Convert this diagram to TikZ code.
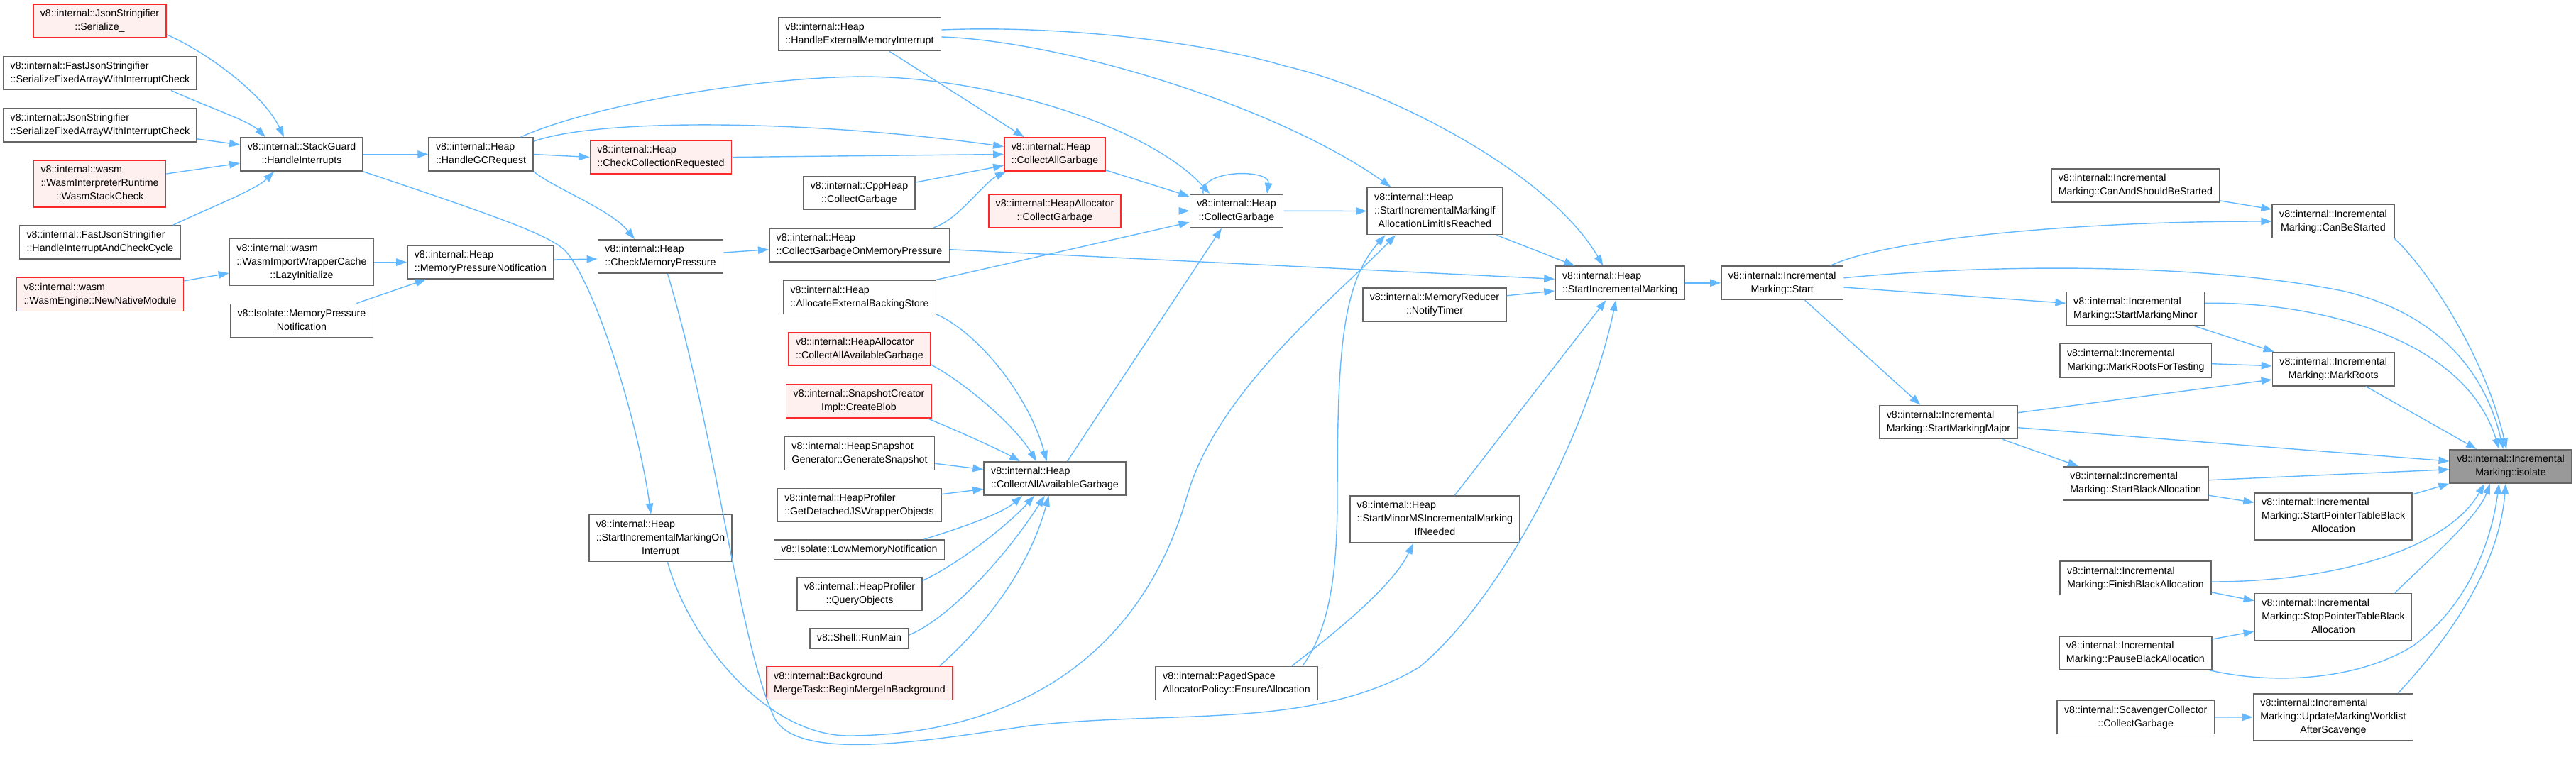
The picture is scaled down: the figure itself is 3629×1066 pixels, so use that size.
\documentclass[tikz,border=0pt]{standalone}
\usepackage{fontspec}
\setmainfont{Liberation Sans}
\usetikzlibrary{arrows.meta}
\definecolor{edgeblue}{RGB}{99,184,255}
\definecolor{boxgray}{RGB}{102,102,102}
\definecolor{hotred}{RGB}{250,40,40}
\definecolor{hotfill}{RGB}{255,240,240}
\definecolor{focusgray}{RGB}{153,153,153}
\newcommand{\fnlabel}[2]{\begin{tabular}{@{}l@{}}#1\\\multicolumn{1}{@{}c@{}}{#2}\end{tabular}}

\begin{document}
\begin{tikzpicture}[x=1pt,y=-1pt,>={Triangle[length=15pt,width=10.5pt]},
  fn/.style={draw=boxgray,fill=white,line width=1.6pt,inner xsep=10pt,inner ysep=4.6pt,font=\fontsize{14.2}{19}\selectfont},
  fnred/.style={fn,draw=hotred,fill=hotfill},
  fnme/.style={fn,fill=focusgray},
  call/.style={->,color=edgeblue,line width=1.4pt}]
  \useasboundingbox (0,0) rectangle (3629,1066);
  \node[fnred] (serialize) at (140.5,29.5) {\fnlabel{v8::internal::JsonStringifier}{::Serialize\_}};
  \node[fn] (fastSerFixed) at (141,103) {\fnlabel{v8::internal::FastJsonStringifier}{::SerializeFixedArrayWithInterruptCheck}};
  \node[fn] (jsonSerFixed) at (141,176.5) {\fnlabel{v8::internal::JsonStringifier}{::SerializeFixedArrayWithInterruptCheck}};
  \node[fnred] (wasmStackCheck) at (140.5,259) {\fnlabel{v8::internal::wasm\\::WasmInterpreterRuntime}{::WasmStackCheck}};
  \node[fn] (fastHandleInt) at (141,341.5) {\fnlabel{v8::internal::FastJsonStringifier}{::HandleInterruptAndCheckCycle}};
  \node[fnred] (newNativeModule) at (141,415) {\fnlabel{v8::internal::wasm}{::WasmEngine::NewNativeModule}};
  \node[fn] (lazyInit) at (425,369.5) {\fnlabel{v8::internal::wasm\\::WasmImportWrapperCache}{::LazyInitialize}};
  \node[fn] (isoMemPressure) at (425,452) {\fnlabel{v8::Isolate::MemoryPressure}{Notification}};
  \node[fn] (stackGuard) at (425,217.5) {\fnlabel{v8::internal::StackGuard}{::HandleInterrupts}};
  \node[fn] (handleGC) at (677.6,217.5) {\fnlabel{v8::internal::Heap}{::HandleGCRequest}};
  \node[fn] (memPressureNotif) at (677,369.5) {\fnlabel{v8::internal::Heap}{::MemoryPressureNotification}};
  \node[fnred] (checkCollReq) at (931,221.5) {\fnlabel{v8::internal::Heap}{::CheckCollectionRequested}};
  \node[fn] (checkMemPressure) at (930.5,361.5) {\fnlabel{v8::internal::Heap}{::CheckMemoryPressure}};
  \node[fn] (incMarkOnInt) at (930.5,758.5) {\fnlabel{v8::internal::Heap\\::StartIncrementalMarkingOn}{Interrupt}};
  \node[fn] (handleExtMem) at (1211,48) {\fnlabel{v8::internal::Heap}{::HandleExternalMemoryInterrupt}};
  \node[fn] (cppHeapCollect) at (1210.5,272) {\fnlabel{v8::internal::CppHeap}{::CollectGarbage}};
  \node[fn] (collectOnPressure) at (1210.5,345.3) {\fnlabel{v8::internal::Heap}{::CollectGarbageOnMemoryPressure}};
  \node[fn] (allocExtStore) at (1211,418.7) {\fnlabel{v8::internal::Heap}{::AllocateExternalBackingStore}};
  \node[fnred] (allocCollectAll) at (1211,492) {\fnlabel{v8::internal::HeapAllocator}{::CollectAllAvailableGarbage}};
  \node[fnred] (createBlob) at (1210,565.5) {\fnlabel{v8::internal::SnapshotCreator}{Impl::CreateBlob}};
  \node[fn] (genSnapshot) at (1211,639) {\fnlabel{v8::internal::HeapSnapshot}{Generator::GenerateSnapshot}};
  \node[fn] (detachedObjs) at (1210.5,712) {\fnlabel{v8::internal::HeapProfiler}{::GetDetachedJSWrapperObjects}};
  \node[fn] (lowMemNotif) at (1210.5,775) {\strut v8::Isolate::LowMemoryNotification};
  \node[fn] (queryObjects) at (1211,837) {\fnlabel{v8::internal::HeapProfiler}{::QueryObjects}};
  \node[fn] (runMain) at (1210.5,900) {\strut v8::Shell::RunMain};
  \node[fnred] (beginMerge) at (1211,963) {\fnlabel{v8::internal::Background}{MergeTask::BeginMergeInBackground}};
  \node[fnred] (collectAll) at (1486,217.5) {\fnlabel{v8::internal::Heap}{::CollectAllGarbage}};
  \node[fnred] (allocCollect) at (1486,297.3) {\fnlabel{v8::internal::HeapAllocator}{::CollectGarbage}};
  \node[fn] (collectAllAvail) at (1486,674.5) {\fnlabel{v8::internal::Heap}{::CollectAllAvailableGarbage}};
  \node[fn] (collectGarbage) at (1742,297.3) {\fnlabel{v8::internal::Heap}{::CollectGarbage}};
  \node[fn] (ensureAlloc) at (1742,963) {\fnlabel{v8::internal::PagedSpace}{AllocatorPolicy::EnsureAllocation}};
  \node[fn] (incMarkIfLimit) at (2021.4,297.5) {\fnlabel{v8::internal::Heap\\::StartIncrementalMarkingIf}{AllocationLimitIsReached}};
  \node[fn] (notifyTimer) at (2021,429.5) {\fnlabel{v8::internal::MemoryReducer}{::NotifyTimer}};
  \node[fn] (minorMSIfNeeded) at (2021.4,732) {\fnlabel{v8::internal::Heap\\::StartMinorMSIncrementalMarking}{IfNeeded}};
  \node[fn] (startIncMark) at (2282.3,398.8) {\fnlabel{v8::internal::Heap}{::StartIncrementalMarking}};
  \node[fn] (markStart) at (2510.7,398.8) {\fnlabel{v8::internal::Incremental}{Marking::Start}};
  \node[fn] (canAndShould) at (3008.4,261.3) {\fnlabel{v8::internal::Incremental}{Marking::CanAndShouldBeStarted}};
  \node[fn] (canBeStarted) at (3286.9,312) {\fnlabel{v8::internal::Incremental}{Marking::CanBeStarted}};
  \node[fn] (markingMinor) at (3008.4,435) {\fnlabel{v8::internal::Incremental}{Marking::StartMarkingMinor}};
  \node[fn] (rootsForTesting) at (3008.7,508.2) {\fnlabel{v8::internal::Incremental}{Marking::MarkRootsForTesting}};
  \node[fn] (markRoots) at (3287.2,520.2) {\fnlabel{v8::internal::Incremental}{Marking::MarkRoots}};
  \node[fn] (markingMajor) at (2745,595) {\fnlabel{v8::internal::Incremental}{Marking::StartMarkingMajor}};
  \node[fn] (startBlack) at (3008.7,681.5) {\fnlabel{v8::internal::Incremental}{Marking::StartBlackAllocation}};
  \node[fnme] (isolate) at (3537,657.3) {\fnlabel{v8::internal::Incremental}{Marking::isolate}};
  \node[fn] (startPtrBlack) at (3287.2,728) {\fnlabel{v8::internal::Incremental\\Marking::StartPointerTableBlack}{Allocation}};
  \node[fn] (finishBlack) at (3008.4,814.8) {\fnlabel{v8::internal::Incremental}{Marking::FinishBlackAllocation}};
  \node[fn] (stopPtrBlack) at (3287,869.5) {\fnlabel{v8::internal::Incremental\\Marking::StopPointerTableBlack}{Allocation}};
  \node[fn] (pauseBlack) at (3008.4,920.3) {\fnlabel{v8::internal::Incremental}{Marking::PauseBlackAllocation}};
  \node[fn] (scavCollect) at (3008.7,1011) {\fnlabel{v8::internal::ScavengerCollector}{::CollectGarbage}};
  \node[fn] (updateWorklist) at (3286.9,1010.8) {\fnlabel{v8::internal::Incremental\\Marking::UpdateMarkingWorklist}{AfterScavenge}};

  \draw[call] ([yshift=5pt]serialize.south east) .. controls (285,70) and (370,130) .. ([xshift=-25pt]stackGuard.north);
  \draw[call] ([xshift=100pt]fastSerFixed.south) .. controls (290,150) and (350,170) .. ([xshift=-51pt]stackGuard.north);
  \draw[call] ([yshift=5pt]jsonSerFixed.south east) -- ([yshift=13.5pt]stackGuard.west);
  \draw[call] ([yshift=14pt]wasmStackCheck.east) -- ([yshift=-12.5pt]stackGuard.west);
  \draw[call] ([xshift=103pt]fastHandleInt.north) .. controls (290,295) and (360,268) .. ([xshift=-39pt]stackGuard.south);
  \draw[call] ([yshift=-5.3pt]newNativeModule.north east) -- ([yshift=-15.5pt]lazyInit.west);
  \draw[call] (lazyInit.east) -- (memPressureNotif.west);
  \draw[call] ([xshift=77pt]isoMemPressure.north) -- ([xshift=-77pt]memPressureNotif.south);
  \draw[call] ([yshift=3.5pt]memPressureNotif.east) -- ([yshift=-3.5pt]checkMemPressure.west);
  \draw[call] (stackGuard.east) -- (handleGC.west);
  \draw[call] (stackGuard.south east) .. controls (700,305) and (770,330) .. (795,352) .. controls (840,400) and (900,600) .. ([xshift=-13.5pt]incMarkOnInt.north);
  \draw[call] (handleGC.south east) .. controls (780,265) and (860,295) .. ([xshift=-36.5pt]checkMemPressure.north);
  \draw[call] (handleGC.east) -- (checkCollReq.west);
  \draw[call] ([yshift=-6pt]handleGC.north east) .. controls (850,165) and (1150,170) .. ([yshift=11pt]collectAll.west);
  \draw[call] ([xshift=56pt]handleGC.north) .. controls (830,150) and (1050,110) .. (1213,108) .. controls (1400,108) and (1620,180) .. ([xshift=-38pt]collectGarbage.north);
  \draw[call] (checkCollReq.east) -- (collectAll.west);
  \draw[call] ([yshift=-9.4pt]cppHeapCollect.north east) -- ([yshift=-15.8pt]collectAll.west);
  \draw[call] ([xshift=104.5pt]collectOnPressure.north) .. controls (1350,310) and (1385,258) .. ([xshift=3pt]collectAll.south west);
  \draw[call] ([xshift=42pt]handleExtMem.south) -- ([xshift=-43.3pt]collectAll.north);
  \draw[call] ([yshift=-4pt]handleExtMem.east) .. controls (1500,58) and (1800,150) .. ([xshift=-62pt]incMarkIfLimit.north);
  \draw[call] ([yshift=6pt]handleExtMem.east) .. controls (1500,35) and (1700,60) .. (1810,93) .. controls (1950,125) and (2180,240) .. ([xshift=-24pt]startIncMark.north);
  \draw[call] ([yshift=2pt]collectAll.south east) -- ([yshift=20.6pt]collectGarbage.west);
  \draw[call] (allocCollect.east) -- (collectGarbage.west);
  \draw[call] ([xshift=-47pt]collectGarbage.north) .. controls (1690,238) and (1790,238) .. ([xshift=43pt]collectGarbage.north);
  \draw[call] (allocExtStore.north east) -- ([yshift=-16pt]collectGarbage.west);
  \draw[call] ([xshift=17.6pt]collectAllAvail.north) -- ([xshift=-21pt]collectGarbage.south);
  \draw[call] (collectGarbage.east) -- (incMarkIfLimit.west);
  \draw[call] ([yshift=5.5pt]checkMemPressure.east) -- ([yshift=-6.4pt]collectOnPressure.west);
  \draw[call] ([yshift=-6.4pt]collectOnPressure.east) -- ([yshift=5.5pt]startIncMark.west);
  \draw[call] ([xshift=10pt]checkMemPressure.south) .. controls (1010,620) and (1040,900) .. (1090,1010) .. controls (1120,1075) and (1300,1045) .. (1450,1023) .. controls (1650,1000) and (1850,1030) .. (2000,940) .. controls (2120,840) and (2240,600) .. ([xshift=-6pt]startIncMark.south);
  \draw[call] ([xshift=10pt]incMarkOnInt.south) .. controls (970,900) and (1080,1040) .. (1200,1037) .. controls (1400,1035) and (1600,950) .. (1672,700) .. controls (1715,550) and (1880,420) .. ([xshift=-55.4pt]incMarkIfLimit.south);
  \draw[call] ([xshift=93pt]ensureAlloc.north) .. controls (1870,890) and (1884,820) .. (1884,700) .. controls (1884,500) and (1890,400) .. ([xshift=-70pt]incMarkIfLimit.south);
  \draw[call] ([xshift=78pt]ensureAlloc.north) .. controls (1870,900) and (1960,830) .. ([xshift=-30.4pt]minorMSIfNeeded.south);
  \draw[call] ([xshift=28pt]minorMSIfNeeded.north) -- ([xshift=-20pt]startIncMark.south);
  \draw[call] ([yshift=12.8pt]notifyTimer.east) -- ([yshift=-11.2pt]startIncMark.west);
  \draw[call] ([xshift=-9pt]incMarkIfLimit.south east) -- ([xshift=-64pt]startIncMark.north);
  \draw[call] (startIncMark.east) -- (markStart.west);
  \draw[call] (allocExtStore.south east) .. controls (1380,470) and (1450,560) .. ([xshift=-11.4pt]collectAllAvail.north);
  \draw[call] ([yshift=2.5pt]allocCollectAll.south east) .. controls (1360,540) and (1430,600) .. ([xshift=-26pt]collectAllAvail.north);
  \draw[call] ([xshift=-6pt]createBlob.south east) .. controls (1360,612) and (1410,635) .. ([xshift=-49pt]collectAllAvail.north);
  \draw[call] ([yshift=-14.3pt]genSnapshot.east) -- ([yshift=12.8pt]collectAllAvail.west);
  \draw[call] ([yshift=-9pt]detachedObjs.north east) -- ([yshift=-14.8pt]collectAllAvail.west);
  \draw[call] ([xshift=91.5pt]lowMemNotif.north) .. controls (1350,745) and (1410,725) .. ([xshift=-46pt]collectAllAvail.south);
  \draw[call] ([yshift=18.7pt]queryObjects.east) .. controls (1350,795) and (1420,740) .. ([xshift=-29pt]collectAllAvail.south);
  \draw[call] ([yshift=5pt]runMain.east) .. controls (1340,870) and (1420,780) .. ([xshift=-14.3pt]collectAllAvail.south);
  \draw[call] ([xshift=112.7pt]beginMerge.north) .. controls (1390,880) and (1450,800) .. ([xshift=-8.5pt]collectAllAvail.south);
  \draw[call] ([xshift=68pt]markStart.north) .. controls (2650,340) and (2900,312) .. (canBeStarted.west);
  \draw[call] ([yshift=-6.2pt]markStart.east) -- ([yshift=7.7pt]markingMinor.west);
  \draw[call] ([yshift=7pt]markStart.east) .. controls (2800,372) and (3100,370) .. (3300,410) .. controls (3430,440) and (3500,520) .. ([xshift=-10.5pt]isolate.north);
  \draw[call] ([xshift=32pt]markStart.south) -- ([xshift=-39.6pt]markingMajor.north);
  \draw[call] ([yshift=2.7pt]canAndShould.south east) -- ([yshift=17pt]canBeStarted.west);
  \draw[call] (canBeStarted.south east) .. controls (3420,380) and (3500,500) .. ([xshift=-6pt]isolate.north);
  \draw[call] ([xshift=82.6pt]markingMinor.south) -- ([xshift=3pt]markRoots.north west);
  \draw[call] ([yshift=7.7pt]markingMinor.east) .. controls (3250,425) and (3470,470) .. ([xshift=-16.4pt]isolate.north);
  \draw[call] ([yshift=-4.5pt]rootsForTesting.east) -- ([yshift=4.5pt]markRoots.west);
  \draw[call] ([yshift=13.3pt]markingMajor.east) -- ([yshift=-14.8pt]markRoots.west);
  \draw[call] ([yshift=-7.7pt]markingMajor.east) -- ([yshift=7.3pt]isolate.west);
  \draw[call] ([xshift=76.5pt]markingMajor.south) -- ([xshift=-80.7pt]startBlack.north);
  \draw[call] ([xshift=45.6pt]markRoots.south) -- ([xshift=38.5pt]isolate.north west);
  \draw[call] ([yshift=4.8pt]startBlack.east) -- ([yshift=-4.4pt]isolate.west);
  \draw[call] ([yshift=-16.8pt]startBlack.east) -- ([yshift=19.7pt]startPtrBlack.west);
  \draw[call] ([yshift=-2.7pt]startPtrBlack.north east) -- (isolate.south west);
  \draw[call] ([yshift=-5.2pt]finishBlack.east) .. controls (3300,820) and (3450,770) .. ([xshift=-37pt]isolate.south);
  \draw[call] ([yshift=4.3pt]finishBlack.south east) -- ([yshift=22.8pt]stopPtrBlack.west);
  \draw[call] ([xshift=87pt]stopPtrBlack.north) .. controls (3420,790) and (3490,730) .. ([xshift=-29pt]isolate.south);
  \draw[call] ([yshift=-5pt]pauseBlack.north east) -- ([yshift=-20.5pt]stopPtrBlack.west);
  \draw[call] ([xshift=-4pt]pauseBlack.south east) .. controls (3200,965) and (3320,960) .. (3400,910) .. controls (3480,850) and (3510,760) .. ([xshift=-16.4pt]isolate.south);
  \draw[call] (scavCollect.east) -- (updateWorklist.west);
  \draw[call] ([xshift=91.5pt]updateWorklist.north) .. controls (3450,900) and (3520,800) .. ([xshift=-7pt]isolate.south);
\end{tikzpicture}
\end{document}
